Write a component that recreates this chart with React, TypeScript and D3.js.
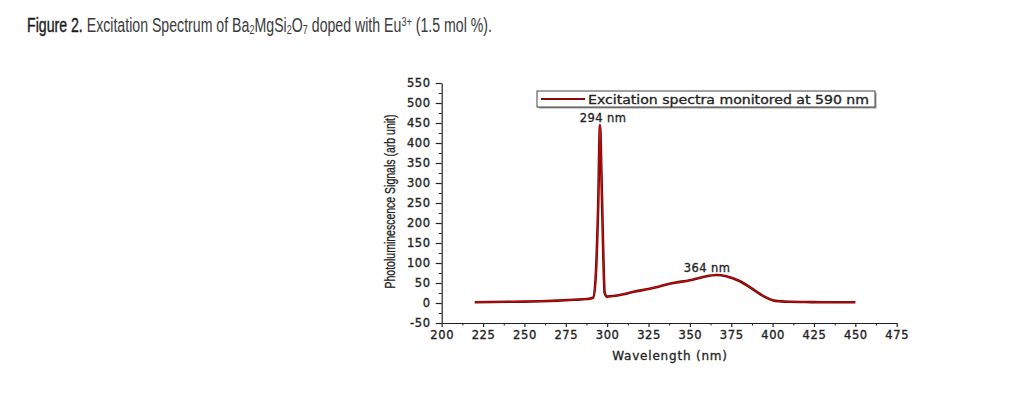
import React, { useEffect, useRef } from 'react';
import * as d3 from 'd3';

// wavelength (nm) / photoluminescence signal (arb unit)
const wavelengths = [
  220, 230, 240, 250, 260, 270, 280, 288, 291.5, 293, 294.5, 295.7, 296.5, 297.5, 298.5, 300,
  305, 310, 316, 325, 332, 340, 350, 358, 366, 372, 380, 385, 390, 395, 400, 405, 410, 420, 430, 440, 450,
];
const signals = [
  2, 2.5, 3, 3.5, 4.5, 6, 8, 10, 13, 60, 230, 445, 330, 150, 25, 16,
  18, 22, 28, 35, 42, 50, 57, 65, 70, 67, 55, 43, 29, 16, 7, 4, 3, 2.5, 2, 2, 2,
];

const xTicks = d3.range(200, 476, 25);
const yTicks = d3.range(-50, 551, 50);

const peakLabels = [
  { at: 295.7, value: 445, text: '294 nm' },
  { at: 364, value: 70, text: '364 nm' },
];

const legendText = 'Excitation spectra monitored at 590 nm';

const W = 1022;
const H = 397;

const App: React.FC = () => {
  const svgRef = useRef<SVGSVGElement>(null);

  useEffect(() => {
    if (!svgRef.current) return;
    const svg = d3.select(svgRef.current);
    svg.selectAll('*').remove();

    const font = "'DejaVu Sans', sans-serif";
    const narrow = "'Liberation Sans Narrow', 'Liberation Sans', sans-serif";
    const x = d3.scaleLinear().domain([200, 475]).range([441.7, 896.7]);
    const y = d3.scaleLinear().domain([-50, 550]).range([323, 83]);

    // title, written piece by piece so the subscripts sit beside their letters,
    // then squeezed sideways to the condensed width of the original
    const parts: { t: string; sub?: number; big?: boolean }[] = [
      { t: 'Figure 2.', big: true },
      { t: ' Excitation Spectrum of Ba' },
      { t: '2', sub: 1 },
      { t: 'MgSi' },
      { t: '2', sub: 1 },
      { t: 'O' },
      { t: '7', sub: 1 },
      { t: ' doped with Eu' },
      { t: '3+', sub: -1 },
      { t: ' (1.5 mol %).' },
    ];
    const tg = svg.append('g');
    let cx = 0;
    parts.forEach(p => {
      const el = tg.append('text')
        .attr('x', cx)
        .attr('y', 32.5 + (p.sub === 1 ? 2 : p.sub === -1 ? -6.5 : 0))
        .style('font-family', narrow)
        .style('font-size', p.sub ? '12.5px' : '19.5px')
        .style('fill', p.big ? '#1a1a1a' : '#3a3a3a')
        .style('stroke', p.big ? '#1a1a1a' : 'none')
        .style('stroke-width', p.big ? 0.4 : 0)
        .attr('xml:space', 'preserve')
        .style('white-space', 'pre')
        .text(p.t);
      const node = el.node() as SVGTextElement;
      cx += node.getComputedTextLength();
    });
    tg.attr('transform', `translate(27,0) scale(${465 / cx},1)`);

    // x axis
    const xAxis = svg.append('g')
      .attr('transform', `translate(0,${y(-50)})`)
      .call(d3.axisBottom(x).tickValues(xTicks).tickSize(4).tickSizeOuter(0).tickPadding(4).tickFormat(d => String(d)));
    svg.append('g')
      .attr('transform', `translate(0,${y(-50)})`)
      .call(d3.axisBottom(x).tickValues(xTicks.slice(0, -1).map(v => v + 12.5)).tickSize(2.5).tickSizeOuter(0).tickFormat(() => ''))
      .select('.domain').remove();

    // y axis
    const yAxis = svg.append('g')
      .attr('transform', `translate(${x(200)},0)`)
      .call(d3.axisLeft(y).tickValues(yTicks).tickSize(6).tickSizeOuter(0).tickPadding(5).tickFormat(d => String(d)));
    svg.append('g')
      .attr('transform', `translate(${x(200)},0)`)
      .call(d3.axisLeft(y).tickValues(yTicks.slice(0, -1).map(v => v + 25)).tickSize(3).tickSizeOuter(0).tickFormat(() => ''))
      .select('.domain').remove();

    [xAxis, yAxis].forEach(a => {
      a.selectAll('path, line').style('stroke', '#222').style('stroke-width', 1.2);
      a.selectAll('text')
        .style('font-family', font)
        .style('font-size', '11.5px')
        .style('fill', '#222')
        .style('stroke', '#222')
        .style('stroke-width', 0.35)
        .style('letter-spacing', '0.6px');
    });
    svg.selectAll('g line').style('stroke', '#222');

    // axis titles
    svg.append('text')
      .attr('x', 670)
      .attr('y', 360)
      .attr('text-anchor', 'middle')
      .style('font-family', font)
      .style('font-size', '12px')
      .style('letter-spacing', '0.8px')
      .style('fill', '#222')
      .style('stroke', '#222')
      .style('stroke-width', 0.3)
      .text('Wavelength (nm)');

    svg.append('text')
      .attr('transform', `translate(395,201.5) rotate(-90)`)
      .attr('text-anchor', 'middle')
      .attr('textLength', 174)
      .attr('lengthAdjust', 'spacingAndGlyphs')
      .style('font-family', narrow)
      .style('font-size', '15.5px')
      .style('fill', '#222')
      .style('stroke', '#222')
      .style('stroke-width', 0.3)
      .text('Photoluminescence Signals (arb unit)');

    // spectrum
    const line = d3.line<number>()
      .x((_, i) => x(wavelengths[i]))
      .y(d => y(d))
      .curve(d3.curveMonotoneX);

    svg.append('path')
      .datum(signals)
      .attr('d', line)
      .style('fill', 'none')
      .style('stroke', '#6e0505')
      .style('stroke-width', 2.6)
      .style('stroke-linejoin', 'round');
    svg.append('path')
      .datum(signals)
      .attr('d', line)
      .style('fill', 'none')
      .style('stroke', '#d01010')
      .style('stroke-width', 1)
      .style('stroke-linejoin', 'round');

    // peak labels
    svg.selectAll('.peak')
      .data(peakLabels)
      .enter()
      .append('text')
      .attr('class', 'peak')
      .attr('x', d => x(d.at) + (d.at > 300 ? -6 : 3))
      .attr('y', d => y(d.value) - 3)
      .attr('text-anchor', 'middle')
      .style('font-family', font)
      .style('font-size', '11.5px')
      .style('letter-spacing', '0.4px')
      .style('fill', '#222')
      .style('stroke', '#222')
      .style('stroke-width', 0.3)
      .text(d => d.text);

    // legend
    const lg = svg.append('g');
    lg.append('rect')
      .attr('x', 538.5).attr('y', 92.5)
      .attr('width', 338).attr('height', 16)
      .style('fill', '#999');
    lg.append('rect')
      .attr('x', 537).attr('y', 91)
      .attr('width', 338).attr('height', 16)
      .style('fill', '#fff')
      .style('stroke', '#444')
      .style('stroke-width', 1);
    lg.append('line')
      .attr('x1', 541).attr('x2', 585)
      .attr('y1', 99).attr('y2', 99)
      .style('stroke', '#8a0a0a')
      .style('stroke-width', 2);
    lg.append('text')
      .attr('x', 588).attr('y', 103.5)
      .attr('textLength', 281)
      .attr('lengthAdjust', 'spacingAndGlyphs')
      .style('font-family', font)
      .style('font-size', '11.5px')
      .style('fill', '#222')
      .style('stroke', '#222')
      .style('stroke-width', 0.3)
      .text(legendText);
  }, []);

  return (
    <svg
      ref={svgRef}
      width={W}
      height={H}
      style={{ position: 'absolute', left: 0, top: 0, background: '#fff' }}
    />
  );
};

export default App;
